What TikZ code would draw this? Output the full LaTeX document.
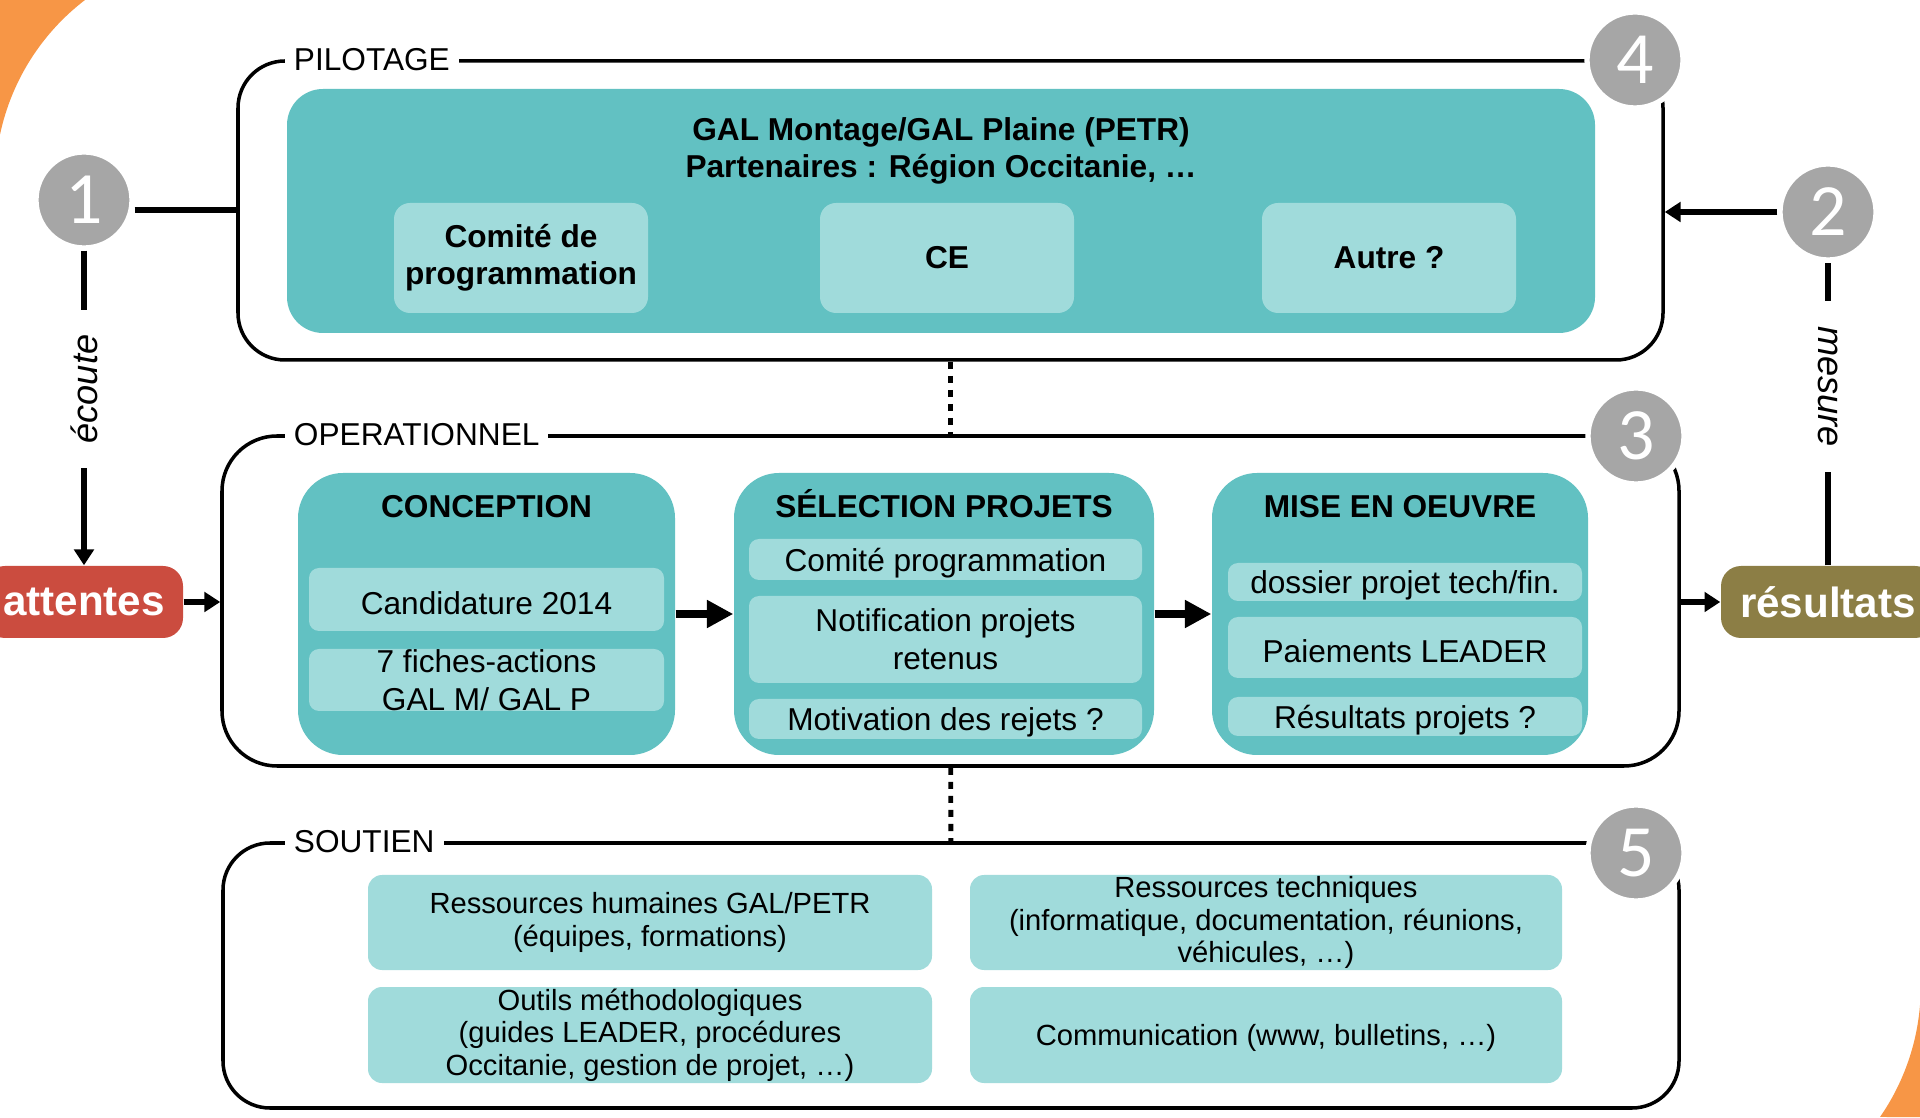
\documentclass[tikz,border=0pt]{standalone}
\usepackage{fontspec}
\setmainfont{Liberation Sans}
\newfontfamily\digitfont{Carlito}
\usetikzlibrary{arrows.meta, positioning}

\definecolor{tealdark}{HTML}{62C1C2}
\definecolor{teallight}{HTML}{A0DBDB}
\definecolor{greynum}{HTML}{A6A6A6}
\definecolor{redatt}{HTML}{CB4C3F}
\definecolor{oliveres}{HTML}{8C7E45}
\definecolor{orangebg}{HTML}{F79646}

\newcommand\ppstrut{\vrule width 0pt height 0.95em depth 0pt}

\begin{document}
\begin{tikzpicture}[on grid,
    frame/.style={draw, line width=1pt, rounded corners=0.47cm},
    flabel/.style={fill=white, anchor=west, inner xsep=0.09cm, inner ysep=1pt, font=\fontsize{9}{10.5}\selectfont},
    bigbox/.style={fill=tealdark, rounded corners=0.45cm},
    ttl/.style={font=\bfseries\fontsize{9}{10.5}\selectfont, align=center},
    lightbox/.style={fill=teallight, rounded corners=0.1cm, inner sep=0pt, align=center, font=\fontsize{9}{10.8}\selectfont},
    subbox/.style={lightbox, execute at begin node=\ppstrut},
    supbox/.style={subbox, rounded corners=0.14cm, font=\fontsize{8.3}{9.2}\selectfont},
    pilbox/.style={lightbox, rounded corners=0.16cm, minimum width=2.54cm, minimum height=1.10cm, font=\bfseries\fontsize{9}{10.5}\selectfont},
    num/.style={circle, fill=greynum, draw=white, line width=1.5pt, minimum size=0.96cm, inner sep=0pt, text=white, font=\digitfont\fontsize{21}{21}\selectfont},
    endbox/.style={rounded corners=0.2cm, text=white, minimum height=0.72cm, font=\bfseries\fontsize{12}{12}\selectfont},
    conn/.style={line width=1.55pt},
    tip/.style={-{Triangle[length=4.5pt,width=5.5pt]}},
    bigtip/.style={line width=2pt, -{Triangle[length=7.5pt,width=7.5pt]}},
    dotline/.style={line width=1.4pt, dash pattern=on 2pt off 2pt},
    side/.style={fill=white, inner xsep=0.25cm, inner ysep=1pt, font=\itshape\fontsize{10.3}{12}\selectfont}
  ]
  \useasboundingbox (0,0) rectangle (19.2,11.17);
  \clip (0,0) rectangle (19.2,11.17);

  % orange corners
  \fill[orangebg] (0,11.17) -- (0.85,11.17) arc[start angle=127.4, end angle=168.0, radius=2.29] -- cycle;
  \fill[orangebg] (19.2,0) -- (19.2,1.12) arc[start angle=-4.6, end angle=-34.7, radius=2.29] -- cycle;

  % frames
  \node[frame, minimum width=14.25cm, minimum height=2.99cm] (pilot) at (9.505,9.065) {};
  \node[frame, rounded corners=0.55cm, minimum width=14.57cm, minimum height=3.30cm] (oper) at (9.505,5.16) {};
  \node[frame, minimum width=14.56cm, minimum height=2.65cm] (sout) at (9.51,1.415) {};
  \node[flabel] (pilot_t) at ([xshift=4.8mm]pilot.north west) {PILOTAGE};
  \node[flabel] (oper_t) at ([xshift=6.4mm]oper.north west) {OPERATIONNEL};
  \node[flabel] (sout_t) at ([xshift=6.3mm]sout.north west) {SOUTIEN};

  % pilotage
  \node[bigbox, rounded corners=0.36cm, minimum width=13.08cm, minimum height=2.44cm] (gal) at (9.41,9.06) {};
  \node[ttl] (gal_t) at (9.41,9.66) {GAL Montage/GAL Plaine (PETR)\\Partenaires : Région Occitanie, …};
  \node[pilbox] (comite) at (5.21,8.59) {Comité de\\programmation};
  \node[pilbox] (ce) [right=4.26cm of comite] {CE};
  \node[pilbox] (autre) [right=4.42cm of ce] {Autre ?};

  % operationnel
  \node[bigbox, minimum width=3.77cm, minimum height=2.82cm] (conc) at (4.865,5.03) {};
  \node[bigbox, minimum width=4.20cm, minimum height=2.82cm] (sel) [right=4.575cm of conc] {};
  \node[bigbox, minimum width=3.76cm, minimum height=2.82cm] (mise) [right=4.56cm of sel] {};
  \node[ttl, anchor=base] (conc_t) at (4.865,5.99) {CONCEPTION};
  \node[ttl, anchor=base] (sel_t) at (9.44,5.99) {SÉLECTION PROJETS};
  \node[ttl, anchor=base] (mise_t) at (14.0,5.99) {MISE EN OEUVRE};

  \node[subbox, minimum width=3.55cm, minimum height=0.63cm] (cand) at (4.865,5.175) {Candidature 2014};
  \node[lightbox, minimum width=3.55cm, minimum height=0.62cm] (fich) [below=0.805cm of cand] {7 fiches-actions\\GAL M/ GAL P};

  \node[subbox, minimum width=3.93cm, minimum height=0.41cm] (comp) at (9.455,5.575) {Comité programmation};
  \node[subbox, minimum width=3.93cm, minimum height=0.87cm] (notif) [below=0.80cm of comp] {Notification projets\\retenus};
  \node[subbox, minimum width=3.93cm, minimum height=0.40cm] (motiv) [below=0.795cm of notif] {Motivation des rejets ?};

  \node[subbox, minimum width=3.54cm, minimum height=0.38cm] (doss) at (14.05,5.35) {dossier projet tech/fin.};
  \node[subbox, minimum width=3.54cm, minimum height=0.61cm] (paie) [below=0.655cm of doss] {Paiements LEADER};
  \node[subbox, minimum width=3.54cm, minimum height=0.39cm] (resp) [below=0.69cm of paie] {Résultats projets ?};

  % soutien
  \node[supbox, minimum width=5.64cm, minimum height=0.95cm] (hum) at (6.50,1.945) {Ressources humaines GAL/PETR\\(équipes, formations)};
  \node[supbox, minimum width=5.92cm, minimum height=0.95cm] (tech) [right=6.16cm of hum] {Ressources techniques\\(informatique, documentation, réunions,\\véhicules, …)};
  \node[supbox, minimum width=5.64cm, minimum height=0.96cm] (outil) [below=1.125cm of hum] {Outils méthodologiques\\(guides LEADER, procédures\\Occitanie, gestion de projet, …)};
  \node[supbox, minimum width=5.92cm, minimum height=0.96cm] (comm) [below=1.125cm of tech] {Communication (www, bulletins, …)};

  % ends
  \node[endbox, fill=redatt, minimum width=1.98cm] (att) at (0.84,5.15) {attentes};
  \node[endbox, fill=oliveres, minimum width=2.14cm] (res) at (18.28,5.15) {résultats};

  % numbers
  \node[num] (num_1) at (0.84,9.17) {1};
  \node[num] (num_2) at (18.28,9.05) {2};
  \node[num] (num_3) at (16.36,6.81) {3};
  \node[num] (num_4) at (16.35,10.57) {4};
  \node[num] (num_5) at (16.36,2.64) {5};

  % connectors
  \draw[conn] ([yshift=-1mm]num_1.east) -- ([yshift=-1mm]num_1.east -| pilot.west);
  \draw[conn, tip] (num_2) -- (num_2 -| pilot.east);
  \draw[conn, tip] (num_1) -- node[side, rotate=90, pos=0.44] {écoute} (att);
  \draw[conn] (res) -- node[side, rotate=-90, pos=0.59] {mesure} (num_2);
  \draw[conn, tip] (att) -- (att -| oper.west);
  \draw[conn, tip] (oper.east |- res) -- (res);
  \draw[bigtip] (conc) -- (sel);
  \draw[bigtip] (sel) -- (mise);
  \draw[dotline] (pilot) -- (oper);
  \draw[dotline] (oper) -- (sout);
\end{tikzpicture}
\end{document}
